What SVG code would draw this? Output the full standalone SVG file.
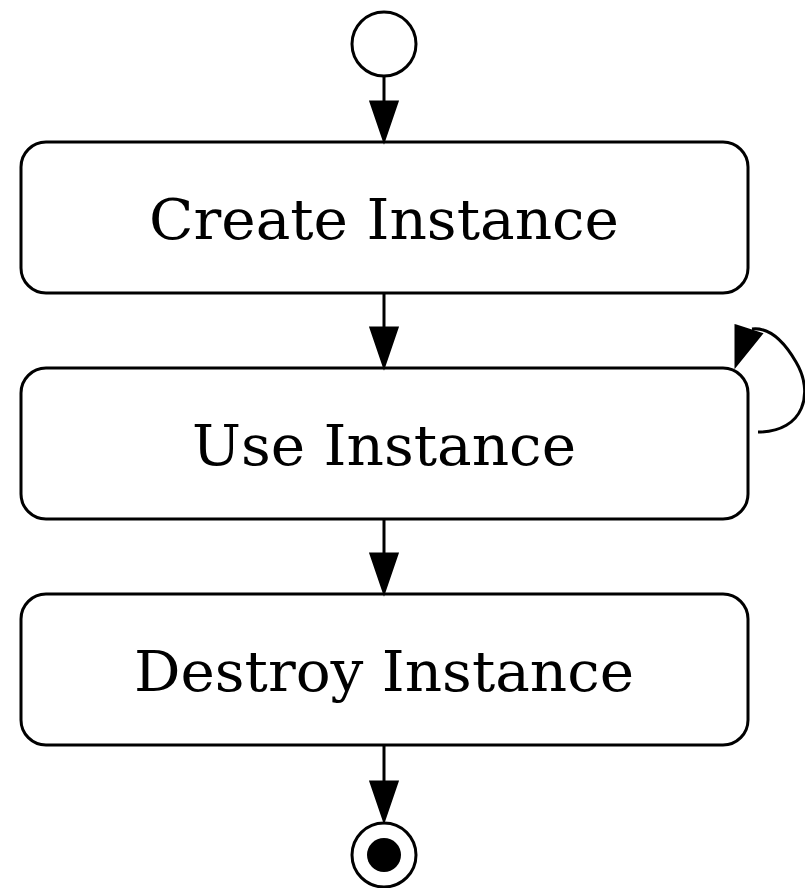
<svg xmlns="http://www.w3.org/2000/svg" width="805" height="888" viewBox="0 0 805 888">
<style>
.box{fill:#fff;stroke:#000;stroke-width:3}
.lbl{font-family:"DejaVu Serif Condensed","DejaVu Serif",serif;font-stretch:condensed;font-size:56px;text-anchor:middle;fill:#000}
.edge{fill:none;stroke:#000;stroke-width:3}
.head{fill:#000;stroke:#000;stroke-width:3}
</style>
<rect width="805" height="888" fill="#fff"/>
<g id="start"><circle cx="384" cy="44" r="32" class="box"/></g>
<g id="create"><rect x="21" y="142" width="727" height="151" rx="25" class="box"/><text x="384" y="239" class="lbl" textLength="470" lengthAdjust="spacingAndGlyphs">Create Instance</text></g>
<g id="use"><rect x="21" y="368" width="727" height="151" rx="25" class="box"/><text x="384" y="465" class="lbl" textLength="384" lengthAdjust="spacingAndGlyphs">Use Instance</text></g>
<g id="destroy"><rect x="21" y="594" width="727" height="151" rx="25" class="box"/><text x="384" y="691" class="lbl" textLength="500" lengthAdjust="spacingAndGlyphs">Destroy Instance</text></g>
<g id="end"><circle cx="384" cy="855" r="32" class="box"/><circle cx="384" cy="855" r="17" fill="#000"/></g>
<g id="connectors">
<path class="edge" d="M384,76 V102"/><polygon class="head" points="371,102 397,102 384,140"/>
<path class="edge" d="M384,293 V328"/><polygon class="head" points="371,328 397,328 384,366"/>
<path class="edge" d="M384,519 V554"/><polygon class="head" points="371,554 397,554 384,592"/>
<path class="edge" d="M384,745 V782"/><polygon class="head" points="371,782 397,782 384,820"/>
<path class="edge" d="M758,432 C805,432 814,392 796,362 C785,343 770,327 752,329"/><polygon class="head" points="736,326 761,334 736,365"/>
</g>
</svg>
